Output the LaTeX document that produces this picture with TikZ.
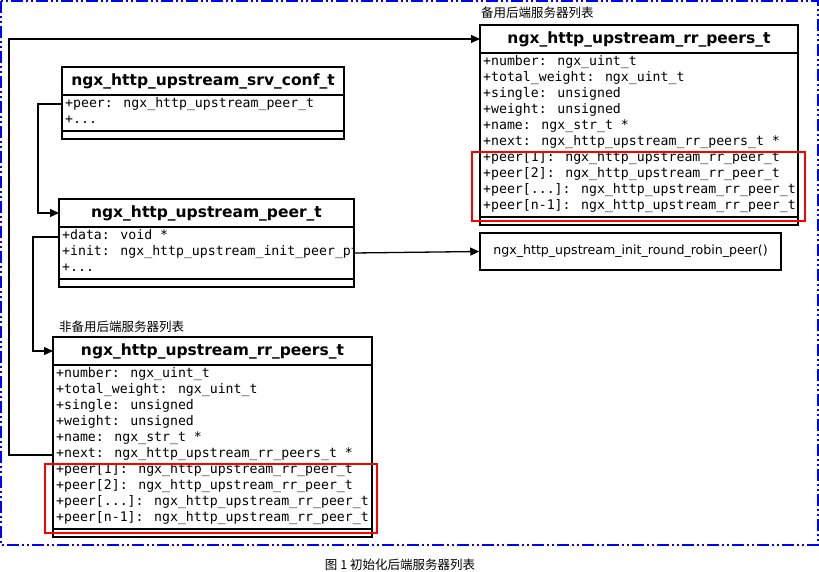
\documentclass[tikz,border=0pt]{standalone}
\usepackage{fontspec}
\setmainfont{DejaVu Sans}
\newfontfamily\monof{DejaVu Sans Mono}
\newfontfamily\cjk{Noto Sans CJK SC}
\usetikzlibrary{arrows.meta}
\begin{document}
\begin{tikzpicture}[x=1pt,y=-1pt,
  box/.style={draw,line width=1.5pt,inner sep=0pt},
  ttl/.style={font=\fontsize{15.5}{16}\selectfont\bfseries},
  fld/.style={font=\monof\fontsize{13.2}{16}\selectfont,anchor=north west,align=left,inner sep=0pt},
  hl/.style={draw=red,line width=1.3pt},
  conn/.style={line width=1.3pt,-{Triangle[length=9pt,width=8pt]}},
  lbl/.style={font=\cjk\fontsize{12.5}{14}\selectfont,inner sep=0pt}]
\useasboundingbox (0,0) rectangle (819,572);
\draw[blue,line width=1.5pt,dash pattern=on 12pt off 3pt on 2pt off 3pt on 2pt off 3pt] (1,1) rectangle (818,545);
% box macro
\newcommand{\umlbox}[8]{% name, x1, x2, ytop, ytitle, yfields, ybottom, title
  \draw[box] (#2,#4) rectangle (#3,#7);
  \draw[box] (#2,#5) -- (#3,#5);
  \draw[box] (#2,#6) -- (#3,#6);
  \node[ttl] (#1) at ({(#2+#3)/2},{(#4+#5)/2}) {#8};
  \coordinate (#1-w) at (#2,#4);}
\umlbox{srv}{62}{344}{67}{95}{131}{139}{ngx\_http\_upstream\_srv\_conf\_t}
\node[fld] (srvf) at (65,97) {+peer: ngx\_http\_upstream\_peer\_t\\+...};
\umlbox{peer}{59}{354}{199}{227}{279}{287}{ngx\_http\_upstream\_peer\_t}
\node[fld] (peerf) at (62,229) {+data: void *\\+init: ngx\_http\_upstream\_init\_peer\_pt\\+...};
\umlbox{rrb}{480}{798}{25}{53}{217}{225}{ngx\_http\_upstream\_rr\_peers\_t}
\node[fld] (rrbf) at (483,55) {+number: ngx\_uint\_t\\+total\_weight: ngx\_uint\_t\\+single: unsigned\\+weight: unsigned\\+name: ngx\_str\_t *\\+next: ngx\_http\_upstream\_rr\_peers\_t *\\+peer[1]: ngx\_http\_upstream\_rr\_peer\_t\\+peer[2]: ngx\_http\_upstream\_rr\_peer\_t\\+peer[...]: ngx\_http\_upstream\_rr\_peer\_t\\+peer[n-1]: ngx\_http\_upstream\_rr\_peer\_t};
\umlbox{rrn}{53}{372}{337}{365}{529}{537}{ngx\_http\_upstream\_rr\_peers\_t}
\node[fld] (rrnf) at (56,367) {+number: ngx\_uint\_t\\+total\_weight: ngx\_uint\_t\\+single: unsigned\\+weight: unsigned\\+name: ngx\_str\_t *\\+next: ngx\_http\_upstream\_rr\_peers\_t *\\+peer[1]: ngx\_http\_upstream\_rr\_peer\_t\\+peer[2]: ngx\_http\_upstream\_rr\_peer\_t\\+peer[...]: ngx\_http\_upstream\_rr\_peer\_t\\+peer[n-1]: ngx\_http\_upstream\_rr\_peer\_t};
\fill[white] (355,240) rectangle (362,262);
\node[box,minimum width=301pt,minimum height=37pt,font=\fontsize{12.6}{14}\selectfont] (fn) at (630.5,251.5) {ngx\_http\_upstream\_init\_round\_robin\_peer()};
\draw[hl] (472,152) rectangle (805,221);
\draw[hl] (45,464) rectangle (377,533);
\node[lbl,anchor=west] (l1) at (481,13) {备用后端服务器列表};
\node[lbl,anchor=west] (l2) at (59,327) {非备用后端服务器列表};
\node[lbl] (cap) at (400,565) {图 1 初始化后端服务器列表};
% connectors
\coordinate (a1) at (62,104);
\coordinate (a2) at (59,213);
\draw[conn] (a1) -- (38,104) |- (a2);
\coordinate (b1) at (59,237);
\coordinate (b2) at (53,351);
\draw[conn] (b1) -- (33,237) |- (b2);
\coordinate (c1) at (53,455);
\coordinate (c2) at (480,39);
\draw[conn] (c1) -- (9,455) |- (c2);
\coordinate (d1) at (354,253);
\draw[conn] (d1) -- (fn.west);
\end{tikzpicture}
\end{document}
